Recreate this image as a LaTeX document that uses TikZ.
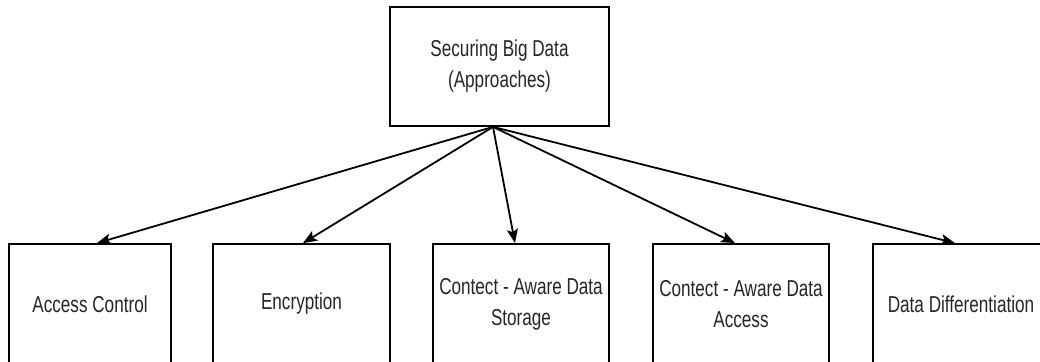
\documentclass[tikz,border=0pt]{standalone}
\usepackage{fontspec}
\newfontfamily\boxfont[FakeStretch=0.745]{Liberation Sans}
\usetikzlibrary{arrows.meta}
\definecolor{ink}{HTML}{262626}
\begin{document}
\begin{tikzpicture}[x=1pt,y=1pt,
  item/.style={draw=black, line width=1.8pt, fill=white, inner sep=0pt,
    minimum height=120pt, align=center, text=ink,
    font=\boxfont\fontsize{23}{31}\selectfont},
  link/.style={draw=black, line width=1.8pt,
    -{Stealth[length=14pt,width=11pt,inset=3pt]}}]
  \useasboundingbox (0,0) rectangle (1040,-361);
  \clip (0,0) rectangle (1040,-361);
  \fill[white] (0,0) rectangle (1040,-361);

  % root of the hierarchy
  \node[item, minimum width=219pt, minimum height=119pt] (root) at (499.5,-66.5)
    {Securing Big Data\\(Approaches)};

  % the five approaches
  \node[item, minimum width=162pt] (ac)  at (90,-304)   {Access Control};
  \node[item, minimum width=177pt] (enc) at (301.5,-304) {Encryption};
  \node[item, minimum width=176pt] (cas) at (521,-304)  {Contect - Aware Data\\Storage};
  \node[item, minimum width=176pt] (caa) at (741,-304)  {Contect - Aware Data\\Access};
  \node[item, minimum width=176pt] (dd)  at (961,-304)  {Data Differentiation};

  % common origin of the connectors
  \coordinate (src) at ([xshift=-6.5pt]root.south);

  \draw[link] (src) -- ([xshift=7pt]ac.north);
  \draw[link] (src) -- ([xshift=1.5pt]enc.north);
  \draw[link] (src) -- ([xshift=-6pt]cas.north);
  \draw[link] (src) -- ([xshift=-6pt]caa.north);
  \draw[link] (src) -- ([xshift=-6pt]dd.north);
\end{tikzpicture}
\end{document}
